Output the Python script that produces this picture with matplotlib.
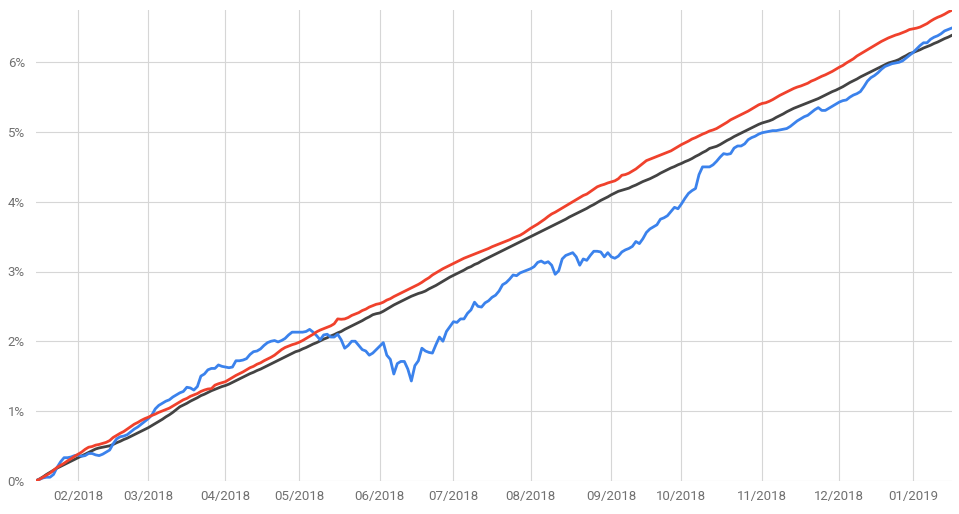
import numpy as np
import pandas as pd
import matplotlib
matplotlib.use("Agg")
import matplotlib.pyplot as plt
from matplotlib.ticker import FuncFormatter

# one value per business day, cumulative return in %
dates = pd.bdate_range("2018-01-16", "2019-01-16")

portfolio = [
    0.00, 0.02, 0.04, 0.05, 0.05, 0.09, 0.19, 0.27, 0.33, 0.33,
    0.34, 0.36, 0.37, 0.35, 0.36, 0.39, 0.39, 0.37, 0.36, 0.38,
    0.41, 0.44, 0.53, 0.60, 0.63, 0.64, 0.66, 0.70, 0.74, 0.77,
    0.81, 0.85, 0.89, 0.94, 1.03, 1.08, 1.11, 1.14, 1.16, 1.20,
    1.23, 1.26, 1.28, 1.34, 1.33, 1.30, 1.35, 1.50, 1.53, 1.59,
    1.61, 1.61, 1.66, 1.64, 1.63, 1.62, 1.63, 1.72, 1.72, 1.73,
    1.75, 1.81, 1.85, 1.86, 1.89, 1.94, 1.98, 2.00, 2.01, 1.99,
    2.01, 2.04, 2.09, 2.13, 2.13, 2.13, 2.13, 2.14, 2.17, 2.13,
    2.08, 2.02, 2.09, 2.10, 2.06, 2.06, 2.10, 2.02, 1.90, 1.94,
    2.00, 2.00, 1.94, 1.88, 1.86, 1.80, 1.83, 1.88, 1.93, 1.98,
    1.80, 1.74, 1.53, 1.68, 1.71, 1.71, 1.60, 1.43, 1.65, 1.72,
    1.90, 1.86, 1.84, 1.83, 1.95, 2.06, 2.00, 2.14, 2.21, 2.28,
    2.27, 2.32, 2.32, 2.40, 2.45, 2.56, 2.50, 2.49, 2.55, 2.58,
    2.63, 2.66, 2.72, 2.81, 2.84, 2.89, 2.95, 2.94, 2.98, 3.00,
    3.02, 3.04, 3.07, 3.13, 3.15, 3.12, 3.14, 3.09, 2.96, 3.01,
    3.18, 3.23, 3.25, 3.27, 3.21, 3.09, 3.18, 3.16, 3.23, 3.29,
    3.29, 3.28, 3.21, 3.27, 3.21, 3.19, 3.22, 3.28, 3.31, 3.33,
    3.36, 3.43, 3.40, 3.47, 3.56, 3.61, 3.64, 3.67, 3.75, 3.77,
    3.80, 3.86, 3.92, 3.90, 3.97, 4.05, 4.12, 4.16, 4.19, 4.39,
    4.50, 4.50, 4.50, 4.53, 4.58, 4.64, 4.69, 4.68, 4.69, 4.77,
    4.80, 4.80, 4.83, 4.89, 4.92, 4.94, 4.97, 4.99, 5.00, 5.01,
    5.02, 5.02, 5.03, 5.04, 5.05, 5.08, 5.12, 5.16, 5.19, 5.22,
    5.24, 5.28, 5.32, 5.35, 5.31, 5.31, 5.34, 5.37, 5.40, 5.43,
    5.45, 5.46, 5.50, 5.53, 5.55, 5.58, 5.65, 5.73, 5.78, 5.81,
    5.85, 5.90, 5.94, 5.96, 5.98, 5.99, 6.00, 6.02, 6.06, 6.10,
    6.14, 6.19, 6.24, 6.28, 6.28, 6.33, 6.36, 6.38, 6.41, 6.45,
    6.47, 6.49,
]

upper = [
    0.00, 0.02, 0.05, 0.08, 0.11, 0.15, 0.19, 0.22, 0.25, 0.285,
    0.315, 0.35, 0.38, 0.41, 0.45, 0.48, 0.49, 0.51, 0.52, 0.535,
    0.55, 0.575, 0.62, 0.65, 0.68, 0.705, 0.74, 0.775, 0.81, 0.835,
    0.865, 0.89, 0.91, 0.935, 0.955, 0.98, 1.00, 1.02, 1.04, 1.07,
    1.10, 1.13, 1.16, 1.18, 1.21, 1.23, 1.25, 1.28, 1.30, 1.315,
    1.32, 1.37, 1.39, 1.405, 1.42, 1.45, 1.48, 1.51, 1.535, 1.56,
    1.59, 1.62, 1.64, 1.67, 1.69, 1.72, 1.745, 1.77, 1.80, 1.84,
    1.88, 1.91, 1.93, 1.95, 1.965, 1.985, 2.01, 2.04, 2.07, 2.10,
    2.135, 2.16, 2.18, 2.20, 2.22, 2.25, 2.32, 2.315, 2.32, 2.34,
    2.37, 2.39, 2.41, 2.44, 2.46, 2.49, 2.51, 2.53, 2.54, 2.56,
    2.59, 2.61, 2.64, 2.665, 2.69, 2.715, 2.74, 2.765, 2.79, 2.815,
    2.845, 2.88, 2.91, 2.95, 2.98, 3.01, 3.04, 3.065, 3.09, 3.115,
    3.14, 3.165, 3.19, 3.21, 3.23, 3.25, 3.27, 3.29, 3.31, 3.33,
    3.355, 3.375, 3.395, 3.415, 3.435, 3.455, 3.48, 3.50, 3.52, 3.55,
    3.585, 3.62, 3.65, 3.68, 3.715, 3.75, 3.79, 3.825, 3.85, 3.88,
    3.91, 3.94, 3.97, 4.00, 4.03, 4.06, 4.09, 4.11, 4.145, 4.18,
    4.215, 4.235, 4.25, 4.27, 4.285, 4.30, 4.33, 4.38, 4.39, 4.41,
    4.44, 4.47, 4.51, 4.55, 4.59, 4.61, 4.63, 4.65, 4.67, 4.69,
    4.71, 4.73, 4.76, 4.79, 4.82, 4.845, 4.87, 4.90, 4.92, 4.945,
    4.97, 4.99, 5.015, 5.03, 5.05, 5.08, 5.11, 5.14, 5.175, 5.20,
    5.225, 5.25, 5.275, 5.30, 5.33, 5.36, 5.39, 5.41, 5.42, 5.44,
    5.465, 5.495, 5.525, 5.55, 5.575, 5.60, 5.625, 5.645, 5.66, 5.68,
    5.70, 5.73, 5.75, 5.775, 5.80, 5.82, 5.845, 5.87, 5.90, 5.93,
    5.955, 5.99, 6.02, 6.05, 6.09, 6.12, 6.15, 6.18, 6.21, 6.24,
    6.27, 6.30, 6.325, 6.35, 6.37, 6.39, 6.405, 6.425, 6.445, 6.47,
    6.48, 6.49, 6.505, 6.53, 6.555, 6.59, 6.62, 6.645, 6.665, 6.69,
    6.72, 6.745,
]

target = [
    0.00, 0.025, 0.055, 0.09, 0.12, 0.15, 0.18, 0.205, 0.23, 0.255,
    0.28, 0.305, 0.33, 0.355, 0.38, 0.405, 0.43, 0.455, 0.47, 0.48,
    0.49, 0.50, 0.52, 0.545, 0.565, 0.59, 0.61, 0.635, 0.66, 0.685,
    0.71, 0.735, 0.76, 0.79, 0.82, 0.85, 0.88, 0.915, 0.945, 0.98,
    1.02, 1.06, 1.085, 1.11, 1.14, 1.165, 1.19, 1.22, 1.24, 1.265,
    1.29, 1.31, 1.33, 1.35, 1.365, 1.385, 1.41, 1.435, 1.46, 1.485,
    1.51, 1.535, 1.555, 1.58, 1.60, 1.625, 1.65, 1.675, 1.70, 1.725,
    1.75, 1.775, 1.80, 1.825, 1.85, 1.865, 1.89, 1.91, 1.935, 1.96,
    1.98, 2.005, 2.03, 2.05, 2.075, 2.095, 2.12, 2.14, 2.17, 2.195,
    2.22, 2.245, 2.27, 2.295, 2.325, 2.35, 2.38, 2.395, 2.405, 2.43,
    2.46, 2.49, 2.52, 2.545, 2.57, 2.595, 2.62, 2.645, 2.665, 2.685,
    2.70, 2.72, 2.75, 2.775, 2.80, 2.83, 2.86, 2.89, 2.92, 2.945,
    2.97, 2.995, 3.02, 3.05, 3.07, 3.10, 3.12, 3.15, 3.175, 3.20,
    3.225, 3.25, 3.275, 3.30, 3.325, 3.35, 3.375, 3.40, 3.425, 3.45,
    3.475, 3.50, 3.525, 3.55, 3.575, 3.60, 3.625, 3.65, 3.675, 3.70,
    3.725, 3.75, 3.78, 3.805, 3.83, 3.855, 3.88, 3.905, 3.935, 3.96,
    3.99, 4.02, 4.045, 4.07, 4.10, 4.125, 4.15, 4.165, 4.18, 4.195,
    4.22, 4.24, 4.265, 4.29, 4.31, 4.33, 4.355, 4.38, 4.41, 4.435,
    4.46, 4.485, 4.505, 4.53, 4.55, 4.575, 4.595, 4.62, 4.65, 4.675,
    4.705, 4.73, 4.765, 4.78, 4.795, 4.82, 4.85, 4.88, 4.905, 4.935,
    4.96, 4.985, 5.01, 5.035, 5.06, 5.085, 5.11, 5.13, 5.145, 5.16,
    5.18, 5.21, 5.235, 5.26, 5.29, 5.315, 5.34, 5.36, 5.38, 5.40,
    5.42, 5.44, 5.46, 5.48, 5.505, 5.53, 5.555, 5.58, 5.60, 5.625,
    5.65, 5.68, 5.71, 5.735, 5.76, 5.79, 5.815, 5.84, 5.865, 5.89,
    5.915, 5.94, 5.965, 5.99, 6.005, 6.02, 6.04, 6.07, 6.095, 6.125,
    6.14, 6.16, 6.18, 6.205, 6.225, 6.245, 6.27, 6.29, 6.315, 6.34,
    6.36, 6.385,
]

y_ticks = [0, 1, 2, 3, 4, 5, 6]

plt.rcParams['font.family'] = ['Roboto', 'DejaVu Sans']

# the axis runs over trading days, not calendar days
x = np.arange(len(dates))
month_start = np.flatnonzero(np.r_[False, dates.month[1:] != dates.month[:-1]])
month_labels = dates[month_start].strftime("%m/%Y")

fig = plt.figure(figsize=(9.59, 5.14), dpi=100)
ax = fig.add_axes([36 / 959, 1 - 480.7 / 514, 915.6 / 959, 470.7 / 514])

ax.plot(x, target, color='#434343', linewidth=2.0, zorder=3)
ax.plot(x, portfolio, color='#3b82ec', linewidth=2.0, zorder=4)
ax.plot(x, upper, color='#f0412c', linewidth=2.0, zorder=5)

ax.set_xlim(0, len(dates) - 1)
ax.set_ylim(0, 6.75)
ax.set_xticks(month_start)
ax.set_xticklabels(month_labels)
ax.set_yticks(y_ticks)
ax.yaxis.set_major_formatter(FuncFormatter(lambda v, p: f"{v:.0f}%"))

ax.grid(True, color='#d6d6d6', linewidth=0.8)
ax.set_axisbelow(True)
for s in ax.spines.values():
    s.set_visible(False)
ax.tick_params(length=0, labelsize=9.5, labelcolor='#707070')
ax.tick_params(axis='x', pad=7)
ax.tick_params(axis='y', pad=8)

fig.savefig("out.png", dpi=100)
